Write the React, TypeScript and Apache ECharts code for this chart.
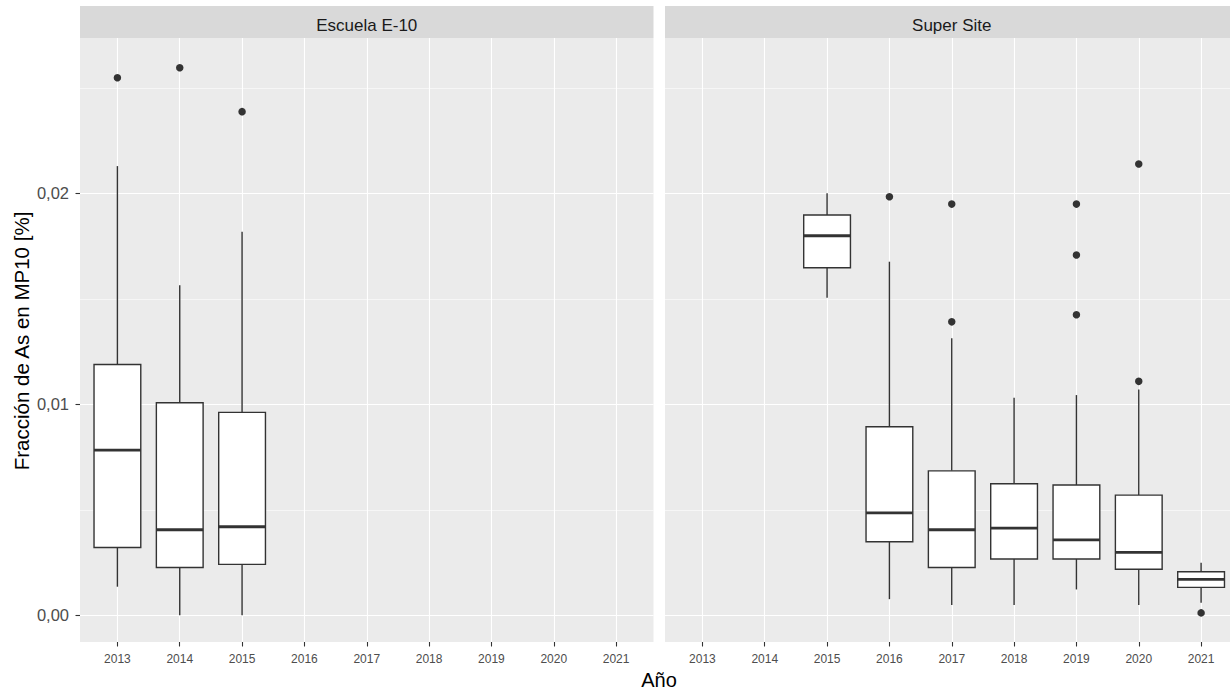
import React, { useEffect, useRef } from "react";
import * as echarts from "echarts";

const years = ["2013", "2014", "2015", "2016", "2017", "2018", "2019", "2020", "2021"];
const panels = ["Escuela E-10", "Super Site"];

// [yearIndex(1-based), lowWhisker, Q1, median, Q3, highWhisker]
const escuelaBoxes = [
  [1, 0.00136, 0.00322, 0.00783, 0.01189, 0.02129],
  [2, 0.00001, 0.00227, 0.00406, 0.01008, 0.01565],
  [3, 0.00001, 0.00242, 0.0042, 0.00962, 0.01818],
];
const escuelaOutliers = [
  [1, 0.02548],
  [2, 0.02595],
  [3, 0.02387],
];
const superBoxes = [
  [3, 0.01505, 0.01647, 0.01799, 0.01897, 0.02],
  [4, 0.00077, 0.00349, 0.00486, 0.00894, 0.01676],
  [5, 0.00049, 0.00227, 0.00406, 0.00685, 0.01313],
  [6, 0.00049, 0.00267, 0.00414, 0.00624, 0.01031],
  [7, 0.00123, 0.00267, 0.00358, 0.00618, 0.01044],
  [8, 0.00049, 0.00219, 0.00299, 0.0057, 0.01071],
  [9, 0.0006, 0.00133, 0.00171, 0.00207, 0.00249],
];
const superOutliers = [
  [4, 0.01984],
  [5, 0.01949],
  [5, 0.01391],
  [7, 0.01949],
  [7, 0.01708],
  [7, 0.01425],
  [8, 0.02139],
  [8, 0.01109],
  [9, 0.00012],
];
const yMajorTicks = [0, 0.01, 0.02];
const yMinorTicks = [0.005, 0.015, 0.025];
const xTickValues = [1, 2, 3, 4, 5, 6, 7, 8, 9];

const Y_MIN = -0.00126;
const Y_MAX = 0.02736;
const X_MIN = 0.4;
const X_MAX = 9.6;

const DARK = "#333333";
const FONT = "Liberation Sans, Arial, sans-serif";

function renderBox(params: any, api: any) {
  const x = api.value(0);
  const lo = api.coord([x, api.value(1)]);
  const q1 = api.coord([x, api.value(2)]);
  const med = api.coord([x, api.value(3)]);
  const q3 = api.coord([x, api.value(4)]);
  const hi = api.coord([x, api.value(5)]);
  const unit = api.size([1, 0])[0];
  const half = (unit * 0.75) / 2;
  const cx = q1[0];
  return {
    type: "group",
    children: [
      {
        type: "line",
        shape: { x1: cx, y1: q3[1], x2: cx, y2: hi[1] },
        style: { stroke: DARK, lineWidth: 1.4 },
      },
      {
        type: "line",
        shape: { x1: cx, y1: q1[1], x2: cx, y2: lo[1] },
        style: { stroke: DARK, lineWidth: 1.4 },
      },
      {
        type: "rect",
        shape: { x: cx - half, y: q3[1], width: half * 2, height: q1[1] - q3[1] },
        style: { fill: "#ffffff", stroke: DARK, lineWidth: 1.4 },
      },
      {
        type: "line",
        shape: { x1: cx - half, y1: med[1], x2: cx + half, y2: med[1] },
        style: { stroke: DARK, lineWidth: 2.8 },
      },
    ],
  };
}

export default function App() {
  const ref = useRef<HTMLDivElement>(null);
  useEffect(() => {
    if (!ref.current) return;
    const chart = echarts.init(ref.current, null, { renderer: "svg" });
    const gridTop = 38;
    const gridH = 604;
    const gridW = 573.5;
    const lefts = [80, 665];

    const xAxes: any[] = [];
    const yAxes: any[] = [];
    lefts.forEach((_, i) => {
      xAxes.push({
        type: "value",
        gridIndex: i,
        min: X_MIN,
        max: X_MAX,
        axisLine: { show: false, onZero: false },
        axisTick: {
          show: true,
          customValues: xTickValues,
          length: 4.5,
          lineStyle: { color: "#333333", width: 1.1 },
        },
        axisLabel: {
          customValues: xTickValues,
          formatter: (v: number) => years[Math.round(v) - 1] ?? "",
          color: "#4D4D4D",
          fontSize: 12,
          fontFamily: FONT,
          margin: 11,
        },
        splitLine: { show: true, lineStyle: { color: "#ffffff", width: 1.1 } },
      });
      yAxes.push({
        type: "value",
        gridIndex: i,
        min: Y_MIN,
        max: Y_MAX,
        axisLine: { show: false, onZero: false },
        axisTick: {
          show: i === 0,
          customValues: yMajorTicks,
          length: 4.5,
          lineStyle: { color: "#333333", width: 1.1 },
        },
        axisLabel: {
          show: i === 0,
          customValues: yMajorTicks,
          formatter: (v: number) => v.toFixed(2).replace(".", ","),
          color: "#4D4D4D",
          fontSize: 16.5,
          fontFamily: FONT,
          margin: 11,
        },
        splitLine: { show: true, lineStyle: { color: "#ffffff", width: 1.1 } },
        z: 1,
      });
    });
    lefts.forEach((_, i) => {
      yAxes.push({
        type: "value",
        gridIndex: i,
        min: Y_MIN,
        max: Y_MAX,
        axisLine: { show: false, onZero: false },
        axisTick: { show: false, customValues: yMinorTicks },
        axisLabel: { show: false, customValues: yMinorTicks },
        splitLine: { show: true, lineStyle: { color: "#ffffff", width: 0.55 } },
      });
    });

    const option: any = {
      animation: false,
      backgroundColor: "#ffffff",
      grid: lefts.map((l) => ({
        left: l,
        top: gridTop,
        width: gridW,
        height: gridH,
        show: true,
        backgroundColor: "#EBEBEB",
        borderWidth: 0,
      })),
      xAxis: xAxes,
      yAxis: yAxes,
      graphic: [
        ...lefts.map((l, i) => ({
          type: "group",
          children: [
            {
              type: "rect",
              shape: { x: l, y: 6, width: gridW, height: 32 },
              style: { fill: "#D9D9D9" },
            },
            {
              type: "text",
              x: l + gridW / 2,
              y: 25,
              style: {
                text: panels[i],
                fill: "#1A1A1A",
                fontSize: 17,
                fontFamily: FONT,
                textAlign: "center",
                textVerticalAlign: "middle",
              },
            },
          ],
        })),
        {
          type: "text",
          x: 659,
          y: 680,
          style: {
            text: "Año",
            fill: "#000000",
            fontSize: 20,
            fontFamily: FONT,
            textAlign: "center",
            textVerticalAlign: "middle",
          },
        },
        {
          type: "text",
          x: 21,
          y: 341,
          rotation: Math.PI / 2,
          style: {
            text: "Fracción de As en MP10 [%]",
            fill: "#000000",
            fontSize: 20.5,
            fontFamily: FONT,
            textAlign: "center",
            textVerticalAlign: "middle",
          },
        },
      ],
      series: [
        {
          type: "custom",
          name: panels[0],
          xAxisIndex: 0,
          yAxisIndex: 0,
          renderItem: renderBox,
          encode: { x: 0, y: [1, 2, 3, 4, 5] },
          data: escuelaBoxes,
          z: 3,
        },
        {
          type: "custom",
          name: panels[1],
          xAxisIndex: 1,
          yAxisIndex: 1,
          renderItem: renderBox,
          encode: { x: 0, y: [1, 2, 3, 4, 5] },
          data: superBoxes,
          z: 3,
        },
        {
          type: "scatter",
          xAxisIndex: 0,
          yAxisIndex: 0,
          symbolSize: 7.5,
          itemStyle: { color: DARK, opacity: 1 },
          data: escuelaOutliers,
          z: 4,
        },
        {
          type: "scatter",
          xAxisIndex: 1,
          yAxisIndex: 1,
          symbolSize: 7.5,
          itemStyle: { color: DARK, opacity: 1 },
          data: superOutliers,
          z: 4,
        },
      ],
    };
    chart.setOption(option);
    return () => chart.dispose();
  }, []);
  return (
    <div
      style={{
        position: "fixed",
        left: 0,
        top: 0,
        width: 1230,
        height: 691,
        overflow: "hidden",
        background: "#ffffff",
      }}
    >
      <div ref={ref} style={{ width: 1245, height: 691 }} />
    </div>
  );
}
